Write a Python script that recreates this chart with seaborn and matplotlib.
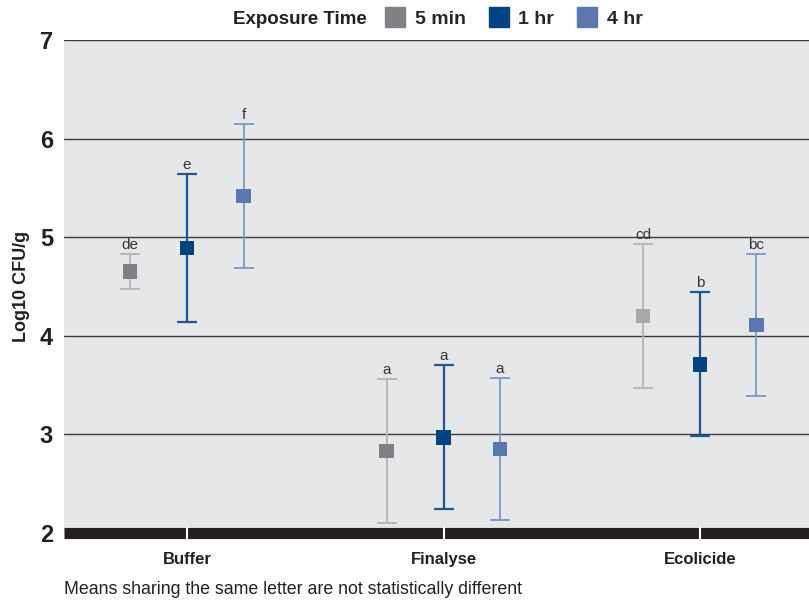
import numpy as np
import pandas as pd
import seaborn as sns
import matplotlib.pyplot as plt
from matplotlib.lines import Line2D
from matplotlib.transforms import blended_transform_factory

# -------------------------
# Data
# -------------------------
treatments = ['Buffer', 'Finalyse', 'Ecolicide']
exposures = ['5 min', '1 hr', '4 hr']

mean_5min = [4.65, 2.83, 4.20]
mean_1hr = [4.89, 2.97, 3.71]
mean_4hr = [5.42, 2.85, 4.11]

err_5min = [0.18, 0.73, 0.73]
err_1hr = [0.75, 0.73, 0.73]
err_4hr = [0.73, 0.72, 0.72]

letters_5min = ['de', 'a', 'cd']
letters_1hr = ['e', 'a', 'b']
letters_4hr = ['f', 'a', 'bc']

df = pd.DataFrame({
    'Treatment': np.repeat(treatments, 3),
    'Exposure': exposures * 3,
    'Mean': [v for t in zip(mean_5min, mean_1hr, mean_4hr) for v in t],
    'Err': [v for t in zip(err_5min, err_1hr, err_4hr) for v in t],
    'Letter': [v for t in zip(letters_5min, letters_1hr, letters_4hr) for v in t],
})

# -------------------------
# Style
# -------------------------
sns.set_theme(style='white')
plt.rcParams['font.family'] = ['Liberation Sans', 'DejaVu Sans']

marker_col = {'5 min': '#808184', '1 hr': '#004381', '4 hr': '#5a78ad'}
bar_col = {'5 min': '#b3b4b6', '1 hr': '#1d5896', '4 hr': '#7e96c3'}
bar_lw = {'5 min': 1.3, '1 hr': 1.6, '4 hr': 1.3}
offset = {'5 min': -0.222, '1 hr': 0.0, '4 hr': 0.22}

df['x'] = df['Treatment'].map({t: i for i, t in enumerate(treatments)}) + df['Exposure'].map(offset)
# the Ecolicide 5 min marker is drawn lighter in the original
df['mcol'] = df['Exposure'].map(marker_col)
df.loc[(df['Treatment'] == 'Ecolicide') & (df['Exposure'] == '5 min'), 'mcol'] = '#a7a8aa'

fig = plt.figure(figsize=(8.09, 6.02), dpi=100)
ax = fig.add_axes([64 / 809, 1 - 533 / 602, 1 - 64 / 809, (533 - 40) / 602])
ax.set_facecolor('#e6e7e9')

for y in [3, 4, 5, 6, 7]:
    ax.axhline(y, color='#3a3a3a', lw=1.0, zorder=1)

for _, r in df.iterrows():
    ax.errorbar(r['x'], r['Mean'], yerr=r['Err'], fmt='none', ecolor=bar_col[r['Exposure']],
                elinewidth=bar_lw[r['Exposure']], capsize=7, capthick=bar_lw[r['Exposure']], zorder=3)
    ax.text(r['x'], r['Mean'] + r['Err'] + 0.02, r['Letter'], ha='center', va='bottom',
            fontsize=11, color='#333333')

sns.scatterplot(data=df, x='x', y='Mean', marker='s', s=110, c=df['mcol'], linewidth=0,
                ax=ax, zorder=4, legend=False)

ax.set_xlim(-0.48, 2.425)
ax.set_ylim(2, 7)
ax.set_yticks([2, 3, 4, 5, 6, 7])
ax.set_yticklabels(['2', '3', '4', '5', '6', '7'], fontsize=17, fontweight='bold', color='#231f20')
ax.set_xticks(range(len(treatments)))
ax.set_xticklabels(treatments, fontsize=12, fontweight='bold', color='#231f20')
ax.tick_params(axis='both', length=0)
ax.tick_params(axis='x', pad=14)
ax.tick_params(axis='y', pad=8)
ax.set_xlabel('')
ax.set_ylabel('Log10 CFU/g', fontsize=13, fontweight='bold', color='#231f20', labelpad=7)

for s in ['top', 'right', 'left']:
    ax.spines[s].set_visible(False)
ax.spines['bottom'].set_color('#231f20')
ax.spines['bottom'].set_linewidth(8)
ax.spines['bottom'].set_capstyle('butt')
ax.spines['bottom'].set_zorder(5)

trans = blended_transform_factory(ax.transData, ax.transAxes)
ax.vlines(range(len(treatments)), -0.013, 0.013, colors='white', lw=1.5, transform=trans,
          clip_on=False, zorder=6)

# legend across the top, title inline
fig.text(367 / 809, 1 - 19 / 602, 'Exposure Time', ha='right', va='center',
         fontsize=13.5, fontweight='bold', color='#231f20')
handles = [Line2D([], [], marker='s', ls='none', markersize=15, color=marker_col[e]) for e in exposures]
fig.legend(handles, exposures, loc='center left', bbox_to_anchor=(368 / 809, 1 - 19 / 602),
           ncol=3, frameon=False, handlelength=1.0, handletextpad=0.5, columnspacing=1.2,
           prop={'size': 14, 'weight': 'bold'})

fig.text(64 / 809, 1 - 590 / 602, 'Means sharing the same letter are not statistically different',
         ha='left', va='center', fontsize=12.8, color='#231f20')

fig.savefig('out.png', dpi=100)
